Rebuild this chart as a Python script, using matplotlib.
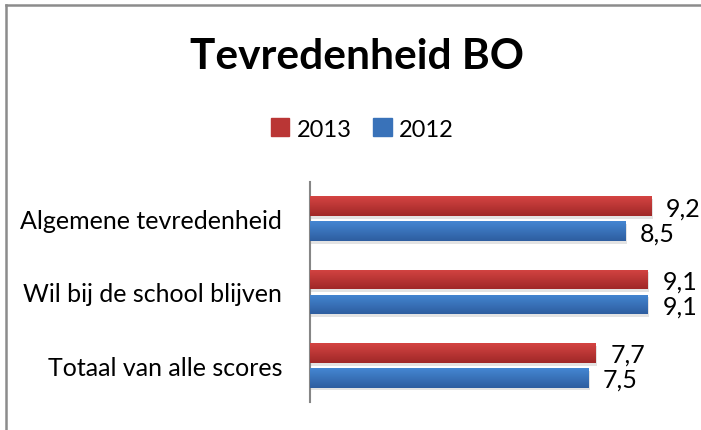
import matplotlib.pyplot as plt
import matplotlib.patheffects as pe
from matplotlib.lines import Line2D
import numpy as np

categories = ['Algemene tevredenheid', 'Wil bij de school blijven', 'Totaal van alle scores']
vals_2013 = [9.2, 9.1, 7.7]
vals_2012 = [8.5, 9.1, 7.5]
labels_2013 = ['9,2', '9,1', '7,7']
labels_2012 = ['8,5', '9,1', '7,5']

plt.rcParams['font.family'] = ['Lato', 'DejaVu Sans']

red_top, red_bot = np.array([212, 68, 66]) / 255, np.array([160, 40, 40]) / 255
blue_top, blue_bot = np.array([68, 134, 210]) / 255, np.array([46, 94, 160]) / 255


def gradient_bars(ax, ys, vals, h, ctop, cbot, label):
    bars = ax.barh(ys, vals, height=h, color=cbot, label=label, zorder=2,
                   path_effects=[pe.SimplePatchShadow(offset=(1, -2), shadow_rgbFace='#c8c8c8', alpha=0.5),
                                 pe.Normal()])
    t = np.linspace(0, 1, 32)[:, None]
    grad = (ctop[None, :] * (1 - t) + cbot[None, :] * t)[:, None, :]
    for b, y, v in zip(bars, ys, vals):
        im = ax.imshow(grad, extent=(0, v, y + h / 2, y - h / 2), aspect='auto', zorder=3,
                       interpolation='bilinear')
        im.set_clip_path(b)
    return bars


fig = plt.figure(figsize=(7.01, 4.31), dpi=100)
ax = fig.add_axes([310 / 701, 1 - 403 / 431, 371 / 701, 220 / 431])

y = np.arange(len(categories))
off, h = 0.17, 0.27
gradient_bars(ax, y - off, vals_2013, h, red_top, red_bot, '2013')
gradient_bars(ax, y + off, vals_2012, h, blue_top, blue_bot, '2012')

for yy, v, s in zip(y - off, vals_2013, labels_2013):
    ax.text(v + 0.4, yy + 0.02, s, va='center', ha='left', fontsize=18)
for yy, v, s in zip(y + off, vals_2012, labels_2012):
    ax.text(v + 0.4, yy + 0.02, s, va='center', ha='left', fontsize=18)

ax.set_xlim(0, 10)
ax.set_ylim(2.5, -0.5)
ax.set_yticks(y)
ax.set_yticklabels(categories, fontsize=18)
ax.tick_params(axis='y', length=0, pad=20)
ax.set_xticks([])
for side in ['top', 'right', 'bottom']:
    ax.spines[side].set_visible(False)
ax.spines['left'].set_color('#868686')
ax.spines['left'].set_linewidth(1.5)
ax.set_facecolor('none')

fig.text(357 / 701, 1 - 57 / 431, 'Tevredenheid BO', ha='center', va='center',
         fontsize=30.5, fontweight='bold')

handles = [plt.Rectangle((0, 0), 1, 1, color=red_top * 0.5 + red_bot * 0.5),
           plt.Rectangle((0, 0), 1, 1, color=blue_top * 0.5 + blue_bot * 0.5)]
fig.legend(handles, ['2013', '2012'], loc='center', bbox_to_anchor=(362 / 701, 1 - 130 / 431),
           ncol=2, frameon=False, fontsize=17, handlelength=0.8, handleheight=0.8,
           handletextpad=0.3, columnspacing=0.9)

fig.add_artist(Line2D([6 / 701, 6 / 701], [0, 1 - 6 / 431], color='#8c8c8c', lw=1.8))
fig.add_artist(Line2D([6 / 701, 1], [1 - 6 / 431, 1 - 6 / 431], color='#8c8c8c', lw=1.8))

fig.savefig('out.png', dpi=100)
